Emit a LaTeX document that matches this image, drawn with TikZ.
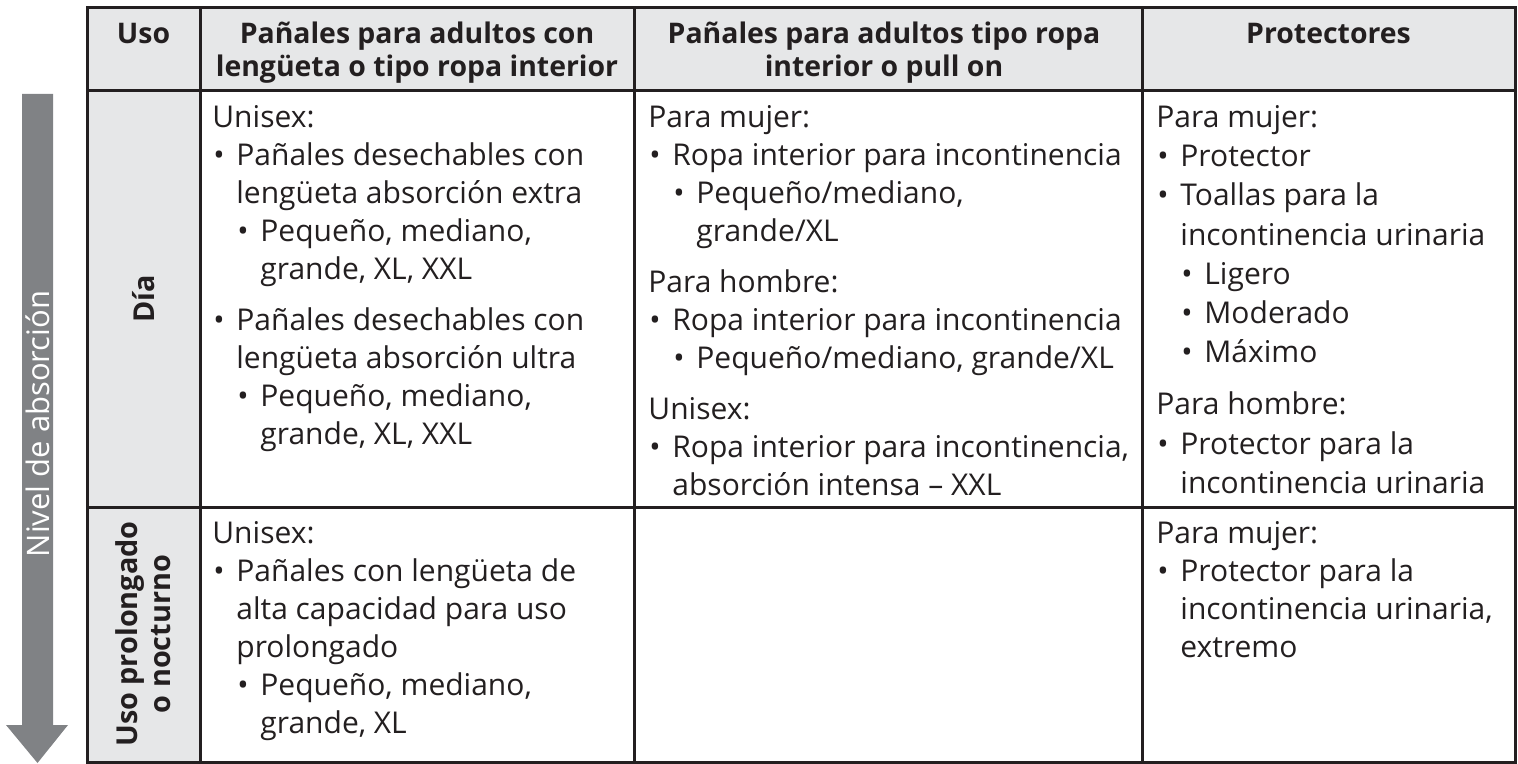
\documentclass[tikz,border=0pt]{standalone}
\usepackage{fontspec}
\setmainfont{Open Sans}
\definecolor{lineC}{HTML}{231F20}
\definecolor{hdr}{HTML}{E6E7E8}
\definecolor{arrC}{HTML}{808285}
\newcommand{\Ia}{\hspace*{0.5pt}\makebox[11.5pt][l]{•}}
\newcommand{\Ic}{\hspace*{12pt}}
\newcommand{\IIa}{\hspace*{12.5pt}\makebox[11.5pt][l]{•}}
\newcommand{\IIc}{\hspace*{24pt}}
\newcommand{\St}{\rule{0pt}{12pt}}
\newcommand{\Gp}{6.5pt}
\tikzset{
  cell/.style={anchor=north west, inner sep=0pt, align=left, text=lineC,
    font=\fontsize{15}{19}\selectfont},
  widecell/.style={cell, font=\fontsize{15}{19.6}\selectfont},
  head/.style={anchor=north, inner sep=0pt, align=center, text=lineC,
    font=\fontsize{14.2}{16.5}\selectfont\bfseries},
  rowlab/.style={rotate=90, inner sep=0pt, align=center, text=lineC,
    font=\fontsize{14.4}{16.5}\selectfont\bfseries},
  grid/.style={draw=lineC, line width=1.5pt},
}
\begin{document}
\begin{tikzpicture}[x=0.5pt,y=-0.5pt]
\useasboundingbox (0,0) rectangle (1518,764);
% arrow
\fill[arrC] (22,94) -- (53,94) -- (53,725) -- (68,725) -- (37.5,763) -- (6,725) -- (22,725) -- cycle;
\node[rotate=90, text=white, inner sep=0pt, font=\fontsize{15.5}{18}\selectfont] (arrlab) at (38,424) {Nivel de absorción};
% fills
\fill[hdr] (87,8) rectangle (1515,91);
\fill[hdr] (87,91) rectangle (200,762);
% grid
\draw[grid] (87,8) rectangle (1515,762);
\draw[grid] (87,91) -- (1515,91);
\draw[grid] (87,507) -- (1515,507);
\draw[grid] (200,8) -- (200,762);
\draw[grid] (634,8) -- (634,762);
\draw[grid] (1142,8) -- (1142,762);
% headers
\node[head] (h1) at (143.5,19) {\St Uso};
\node[head] (h2) at (417,19) {\St Pañales para adultos con\\lengüeta o tipo ropa interior};
\node[head] (h3) at (884,19) {\St Pañales para adultos tipo ropa\\interior o pull on};
\node[head] (h4) at (1328.5,19) {\St Protectores};
% row labels
\node[rowlab] (r1) at (143.5,299) {Día};
\node[rowlab] (r2) at (143.5,634) {Uso prolongado\\o nocturno};
% row 1
\node[cell] (c11) at (212,103) {\St Unisex:\\
\Ia Pañales desechables con\\
\Ic lengüeta absorción extra\\
\IIa Pequeño, mediano,\\
\IIc grande, XL, XXL\\[\Gp]
\Ia Pañales desechables con\\
\Ic lengüeta absorción ultra\\
\IIa Pequeño, mediano,\\
\IIc grande, XL, XXL};
\node[cell] (c12) at (648,103) {\St Para mujer:\\
\Ia Ropa interior para incontinencia\\
\IIa Pequeño/mediano,\\
\IIc grande/XL\\[\Gp]
Para hombre:\\
\Ia Ropa interior para incontinencia\\
\IIa Pequeño/mediano, grande/XL\\[\Gp]
Unisex:\\
\Ia Ropa interior para incontinencia,\\
\Ic absorción intensa – XXL};
\node[widecell] (c13) at (1156,103) {\St Para mujer:\\
\Ia Protector\\
\Ia Toallas para la\\
\Ic incontinencia urinaria\\
\IIa Ligero\\
\IIa Moderado\\
\IIa Máximo\\[\Gp]
Para hombre:\\
\Ia Protector para la\\
\Ic incontinencia urinaria};
% row 2
\node[cell] (c21) at (212,519) {\St Unisex:\\
\Ia Pañales con lengüeta de\\
\Ic alta capacidad para uso\\
\Ic prolongado\\
\IIa Pequeño, mediano,\\
\IIc grande, XL};
\node[cell] (c23) at (1156,519) {\St Para mujer:\\
\Ia Protector para la\\
\Ic incontinencia urinaria,\\
\Ic extremo};
\end{tikzpicture}
\end{document}
